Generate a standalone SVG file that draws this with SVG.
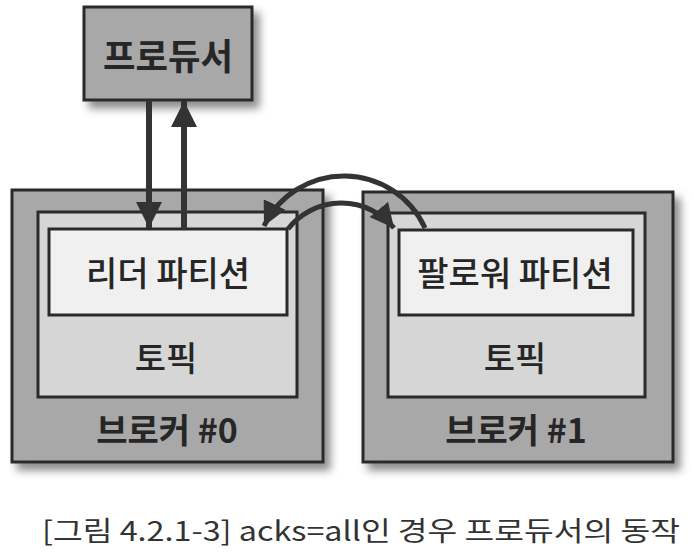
<svg xmlns="http://www.w3.org/2000/svg" width="694" height="552" viewBox="0 0 694 552">
<style>
.box{stroke:#2a2a2a;stroke-width:3}
.outer{fill:#a8a8a8}
.topic{fill:#d6d6d6}
.part{fill:#f0f0f0}
.t{font-family:"Noto Sans CJK KR","Noto Sans",sans-serif;fill:#262626;text-anchor:middle;font-weight:500}
.b{font-weight:bold}
.cap{font-family:"Noto Sans CJK KR","Noto Sans",sans-serif;fill:#333;text-anchor:middle;font-size:27px}
.line{stroke:#333;stroke-width:6;fill:none}
.arc{stroke:#333;stroke-width:5;fill:none}
</style>
<defs>
<filter id="sh" x="-10%" y="-10%" width="130%" height="130%">
<feDropShadow dx="6" dy="7" stdDeviation="4" flood-color="#000" flood-opacity="0.45"/>
</filter>
<marker id="ah" markerUnits="userSpaceOnUse" markerWidth="28" markerHeight="26" refX="26" refY="13" orient="auto">
<path d="M0,0 L26,13 L0,26 Z" fill="#333"/>
</marker>
<marker id="ah2" markerUnits="userSpaceOnUse" markerWidth="26" markerHeight="24" refX="24" refY="12" orient="auto">
<path d="M0,0 L24,12 L0,24 Z" fill="#333"/>
</marker>
</defs>
<rect width="694" height="552" fill="#fff"/>

<g id="producer">
<rect x="84" y="7" width="168" height="93" class="box outer" filter="url(#sh)"/>
<text x="168" y="70" class="t b" font-size="36" textLength="130" lengthAdjust="spacingAndGlyphs">프로듀서</text>
</g>

<g id="broker0">
<rect x="12" y="190" width="311" height="272" class="box outer" filter="url(#sh)"/>
<rect x="38" y="212" width="259" height="185" class="box topic"/>
<rect x="49" y="229" width="238" height="86" class="box part"/>
<text x="168" y="286" class="t" font-size="34">리더 파티션</text>
<text x="166" y="371" class="t" font-size="34">토픽</text>
<text x="167" y="443" class="t b" font-size="34">브로커 #0</text>
</g>

<g id="broker1">
<rect x="363" y="192" width="310" height="270" class="box outer" filter="url(#sh)"/>
<rect x="388" y="213" width="257" height="184" class="box topic"/>
<rect x="399" y="230" width="234" height="85" class="box part"/>
<text x="515" y="286" class="t" font-size="34">팔로워 파티션</text>
<text x="515" y="371" class="t" font-size="34">토픽</text>
<text x="516" y="443" class="t b" font-size="34">브로커 #1</text>
</g>

<g id="connectors">
<line x1="149" y1="100" x2="149" y2="228" class="line" marker-end="url(#ah)"/>
<line x1="184" y1="229" x2="184" y2="101" class="line" marker-end="url(#ah)"/>
<path d="M425,228 A89,89 0 0 0 264,226" class="arc" marker-end="url(#ah2)"/>
<path d="M288,229 A68,68 0 0 1 394,228" class="arc" marker-end="url(#ah2)"/>
</g>

<text x="361" y="541" class="cap" textLength="638" lengthAdjust="spacingAndGlyphs">[그림 4.2.1-3] acks=all인 경우 프로듀서의 동작</text>
</svg>
